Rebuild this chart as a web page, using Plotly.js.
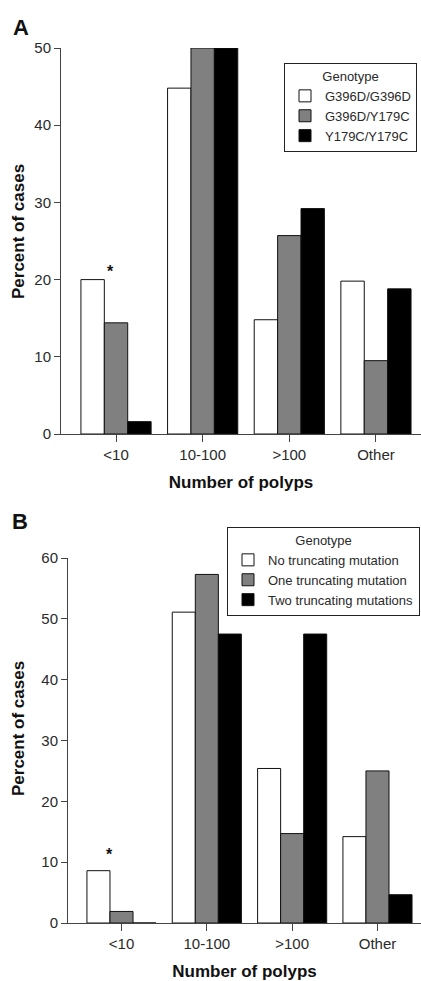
<!DOCTYPE html>
<html>
<head>
<meta charset="utf-8">
<script src="https://cdn.plot.ly/plotly-3.0.1.min.js"></script>
<style>html,body{margin:0;padding:0;background:#fff;overflow:hidden;}#chart{width:421px;height:981px;}</style>
</head>
<body>
<div id="chart"></div>
<script>
const categories = ["<10", "10-100", ">100", "Other"];
const seriesA_names = ["G396D/G396D", "G396D/Y179C", "Y179C/Y179C"];
const seriesA_G396D_G396D = [20, 44.8, 14.8, 19.8];
const seriesA_G396D_Y179C = [14.4, 50, 25.7, 9.5];
const seriesA_Y179C_Y179C = [1.6, 50, 29.2, 18.8];
const seriesB_names = ["No truncating mutation", "One truncating mutation", "Two truncating mutations"];
const seriesB_none = [8.6, 51.1, 25.4, 14.2];
const seriesB_one = [1.9, 57.3, 14.7, 25.0];
const seriesB_two = [0, 47.5, 47.5, 4.65];
const yTicksA = [0, 10, 20, 30, 40, 50];
const yTicksB = [0, 10, 20, 30, 40, 50, 60];

const fills = ["#ffffff", "#808080", "#000000"];
const FONT = "Liberation Sans, Arial, Helvetica, sans-serif";
const TXT = "#2a2a2a";
const AX = "#444444";

function bar(name, y, i, xa, ya, leg) {
  return {
    type: "bar", name: name, x: categories, y: y,
    xaxis: xa, yaxis: ya, legend: leg,
    marker: {color: fills[i], line: {color: "#111111", width: 1}},
    hoverinfo: "x+y+name"
  };
}

const dataA = [seriesA_G396D_G396D, seriesA_G396D_Y179C, seriesA_Y179C_Y179C];
const dataB = [seriesB_none, seriesB_one, seriesB_two];
const traces = [];
dataA.forEach((d, i) => traces.push(bar(seriesA_names[i], d, i, "x", "y", "legend")));
dataB.forEach((d, i) => traces.push(bar(seriesB_names[i], d, i, "x2", "y2", "legend2")));

function xax(domain, range) {
  return {
    domain: domain, range: range, type: "category",
    showline: true, linecolor: AX, linewidth: 1,
    ticks: "outside", ticklen: 7, tickcolor: AX, tickwidth: 1,
    showgrid: false, zeroline: false, fixedrange: true,
    tickfont: {family: FONT, size: 15, color: TXT},
    title: {text: "Number of polyps", font: {family: FONT, size: 17, color: "#111", weight: "bold"}, standoff: 14}
  };
}
function yax(domain, range, ticks, anchor) {
  return {
    domain: domain, range: range, anchor: anchor,
    tickvals: ticks, ticktext: ticks.map(String),
    showline: true, linecolor: AX, linewidth: 1,
    ticks: "outside", ticklen: 6, tickcolor: AX, tickwidth: 1,
    showgrid: false, zeroline: false, fixedrange: true,
    tickfont: {family: FONT, size: 15, color: TXT}
  };
}

const H = 981, W = 421;
const py = p => 1 - p / H;
const px = p => p / W;

const legendCommon = {
  bgcolor: "#ffffff", bordercolor: "#222222", borderwidth: 1,
  font: {family: FONT, size: 13, color: TXT},
  xanchor: "right", yanchor: "top",
  itemclick: false, itemdoubleclick: false,
  tracegroupgap: 0, itemwidth: 30
};

function label(text, x, y, size, angle) {
  return {text: text, x: px(x), y: py(y), xref: "paper", yref: "paper", showarrow: false,
    xanchor: "center", yanchor: "middle", textangle: angle || 0,
    font: {family: FONT, size: size, color: "#111", weight: "bold"}};
}

const layout = {
  width: W, height: H,
  margin: {l: 0, r: 0, t: 0, b: 0, pad: 0, autoexpand: false},
  paper_bgcolor: "#ffffff", plot_bgcolor: "#ffffff",
  barmode: "group", bargap: 0.19, bargroupgap: 0,
  showlegend: true,
  xaxis: Object.assign(xax([px(61), 1], [-0.635, 3.52]), {anchor: "y"}),
  yaxis: yax([py(434), py(48)], [0, 50], yTicksA, "x"),
  xaxis2: Object.assign(xax([px(68), 1], [-0.627, 3.51]), {anchor: "y2"}),
  yaxis2: yax([py(923), py(558)], [0, 60], yTicksB, "x2"),
  legend: Object.assign({}, legendCommon, {
    x: px(417), y: py(63),
    title: {text: "Genotype", side: "top center", font: {family: FONT, size: 13, color: TXT}}
  }),
  legend2: Object.assign({}, legendCommon, {
    x: px(420), y: py(527),
    title: {text: "Genotype", side: "top center", font: {family: FONT, size: 13, color: TXT}}
  }),
  annotations: [
    label("A", 21, 27, 22),
    label("B", 20, 521, 22),
    label("Percent of cases", 18, 232, 17, -90),
    label("Percent of cases", 18, 729, 17, -90),
    {text: "*", x: -0.06, y: 21, xref: "x", yref: "y", showarrow: false,
     font: {family: FONT, size: 16, color: "#111", weight: "bold"}},
    {text: "*", x: -0.135, y: 11.2, xref: "x2", yref: "y2", showarrow: false,
     font: {family: FONT, size: 16, color: "#111", weight: "bold"}}
  ]
};

Plotly.newPlot("chart", traces, layout, {displayModeBar: false, staticPlot: false});
</script>
</body>
</html>
